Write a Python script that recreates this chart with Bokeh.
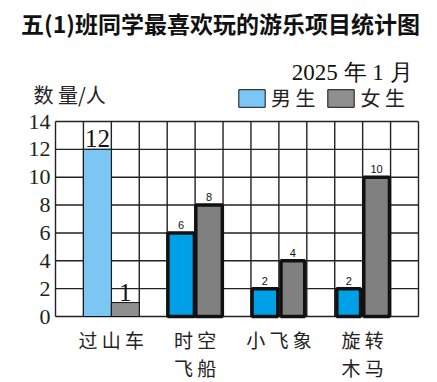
from bokeh.plotting import figure
from bokeh.models import ColumnDataSource, Legend, LegendItem, Range1d
from bokeh.core.properties import value
from bokeh.embed import file_html
from bokeh.resources import INLINE

title = "五(1)班同学最喜欢玩的游乐项目统计图"
date_text = "2025 年 1 月"
y_title = "数 量/人"
series_names = ["男 生", "女 生"]
categories = ["过山车", "时空飞船", "小飞象", "旋转木马"]
tick_labels = ["过 山 车", "时 空\n飞 船", "小 飞 象", "旋 转\n木 马"]
boys = [12, 6, 2, 2]
girls = [1, 8, 4, 10]
y_ticks = [0, 2, 4, 6, 8, 10, 12, 14]
n_cols = 13

CJK = "Noto Sans CJK SC"
SERIF = "Liberation Serif"

# layout (pixels) -- the whole canvas is the plot frame
W, H = 430, 380
FRAME_L, FRAME_B, FRAME_W, FRAME_H = 55, 316, 363, 195
UX = FRAME_W / n_cols
UY = FRAME_H / max(y_ticks)


def X(px):
    return (px - FRAME_L) / UX


def Y(py):
    return (FRAME_B - py) / UY


p = figure(width=W, height=H, output_backend="svg", toolbar_location=None,
           x_range=Range1d(X(0), X(W)), y_range=Range1d(Y(H), Y(0)),
           x_axis_type=None, y_axis_type=None, min_border=0)
p.outline_line_color = None
p.background_fill_color = "white"
p.border_fill_color = "white"

# grid (column lines and value lines)
ymax = max(y_ticks)
cols = list(range(n_cols + 1))
p.segment(x0=cols, y0=[0] * len(cols), x1=cols, y1=[ymax] * len(cols),
          line_color="#222222", line_width=1.4)
p.segment(x0=[0] * len(y_ticks), y0=y_ticks, x1=[n_cols] * len(y_ticks), y1=y_ticks,
          line_color="#222222", line_width=1.4)

# bars
centers = [3 * i + 2 for i in range(len(categories))]
src_b = ColumnDataSource(dict(
    x=[c - 0.5 for c in centers], top=boys,
    color=["#7cc6f4", "#00a0e9", "#00a0e9", "#00a0e9"],
    lw=[1.0, 3.5, 3.5, 3.5], w=[1.0, 0.95, 0.92, 0.85]))
src_g = ColumnDataSource(dict(
    x=[c + 0.5 for c in centers], top=girls,
    color=["#8f8f8f", "#808080", "#808080", "#808080"],
    lw=[1.0, 3.5, 3.5, 3.5], w=[1.0, 0.95, 0.85, 0.92]))
rb = p.vbar(x="x", top="top", width="w", bottom=0, source=src_b,
            fill_color="color", line_color="#111111", line_width="lw")
rg = p.vbar(x="x", top="top", width="w", bottom=0, source=src_g,
            fill_color="color", line_color="#111111", line_width="lw")

# value labels
big = dict(x=[src_b.data["x"][0], src_g.data["x"][0]], y=[boys[0], girls[0]],
           t=[str(boys[0]), str(girls[0])])
p.text(x="x", y="y", text="t", source=ColumnDataSource(big), text_align="center",
       text_baseline="bottom", text_font=value(SERIF), text_font_size="25px",
       text_color="#111111", y_offset=-2)
small = dict(x=src_b.data["x"][1:] + src_g.data["x"][1:], y=boys[1:] + girls[1:],
             t=[str(v) for v in boys[1:] + girls[1:]])
p.text(x="x", y="y", text="t", source=ColumnDataSource(small), text_align="center",
       text_baseline="bottom", text_font=value("Liberation Sans"), text_font_size="11px",
       text_color="#111111", y_offset=-4)

# y tick labels
p.text(x=[0] * len(y_ticks), y=y_ticks, text=[str(t) for t in y_ticks],
       text_align="right", text_baseline="middle", x_offset=-5,
       text_font=value(SERIF), text_font_size="22px", text_color="#222222")

# category labels
p.text(x=centers, y=[0] * len(centers), text=tick_labels, text_align="center",
       text_baseline="top", y_offset=9, text_line_height=1.05,
       text_font=value(CJK), text_font_size="19px", text_color="#222222")

# header texts
p.text(x=[X(220)], y=[Y(22)], text=[title], text_align="center", text_baseline="middle",
       text_font=value(CJK), text_font_size="23px", text_font_style="bold",
       text_color="#111111")
p.text(x=[X(412)], y=[Y(72)], text=[date_text], text_align="right", text_baseline="middle",
       text_font=value(SERIF), text_font_size="23px", text_color="#111111")
p.text(x=[X(33)], y=[Y(94)], text=[y_title], text_align="left", text_baseline="middle",
       text_font=value(CJK), text_font_size="20px", text_color="#222222")

legend = Legend(items=[LegendItem(label=series_names[0], renderers=[rb]),
                       LegendItem(label=series_names[1], renderers=[rg])],
                location=(235, H - 112), orientation="horizontal",
                glyph_width=33, glyph_height=22, label_standoff=3, spacing=9,
                padding=0, margin=0, border_line_color=None, background_fill_alpha=0,
                label_text_font=CJK, label_text_font_size="20px", label_text_color="#222222",
                label_height=22)
p.add_layout(legend, "center")

open("out.html", "w").write(file_html(p, INLINE))
